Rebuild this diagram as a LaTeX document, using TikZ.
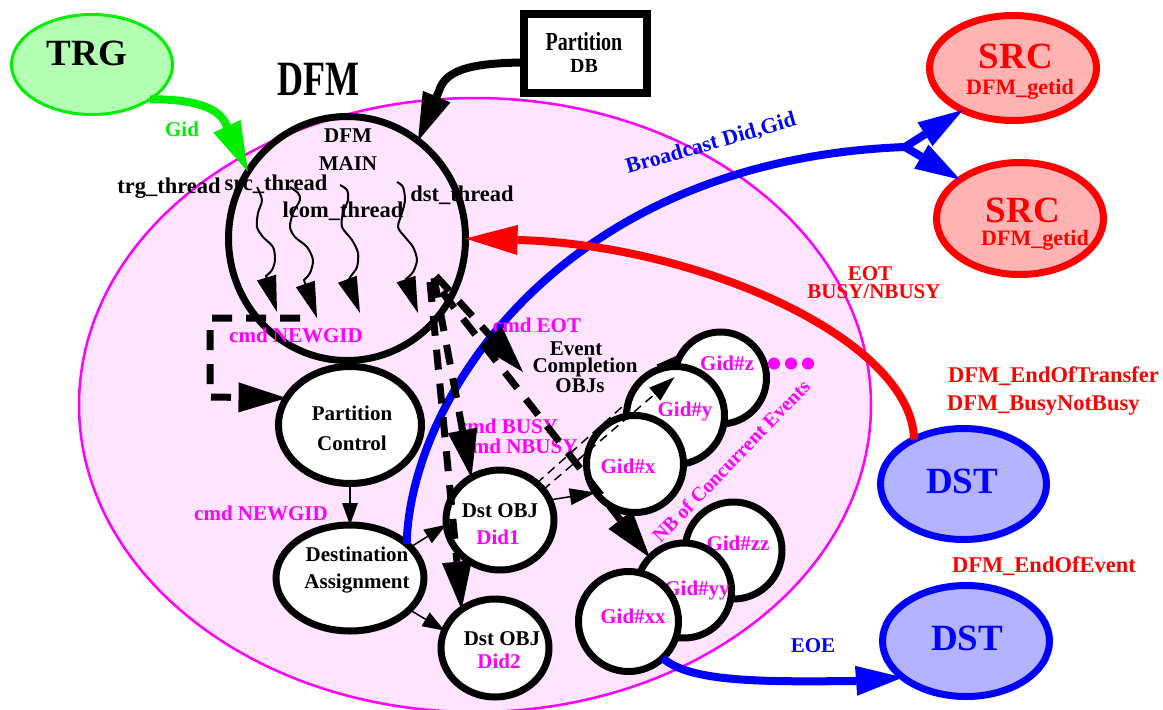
\documentclass[tikz,border=0pt]{standalone}
\usepackage{graphicx}
\usepackage{fontspec}
\setmainfont{Liberation Serif}
\usetikzlibrary{arrows.meta,shapes.geometric}

\definecolor{zonefill}{RGB}{255,228,255}
\definecolor{mag}{RGB}{255,0,255}
\definecolor{trgfill}{RGB}{179,255,179}
\definecolor{trgline}{RGB}{0,238,0}
\definecolor{srcfill}{RGB}{255,179,179}
\definecolor{dstfill}{RGB}{179,179,255}

\newcommand{\fsz}[2]{\fontsize{#1}{#2}\selectfont\bfseries}

\begin{document}
\begin{tikzpicture}[x=1pt,y=-1pt,
  every node/.style={inner sep=0pt, outer sep=0pt},
  lbl/.style={font=\fsz{21}{21}, anchor=base},
  lblw/.style={lbl, anchor=base west, font=\fsz{22.5}{22.5}},
  thlbl/.style={lbl, font=\fsz{22.5}{22.5}},
  bubble/.style={ellipse, draw=black, line width=7pt, fill=white},
  gid/.style={circle, draw=black, line width=7pt, fill=white},
  ext/.style={ellipse, line width=7pt},
  bigarrow/.style={line width=8pt, -{Triangle[length=50pt,width=30pt,line width=0pt]}},
  forkarrow/.style={line width=8pt, -{Triangle[length=45pt,width=28pt,line width=0pt]}},
  thinarrow/.style={line width=1.5pt, -{Triangle[length=22pt,width=16pt,line width=0pt]}},
  thindash/.style={line width=1.5pt, dash pattern=on 9pt off 6pt, -{Triangle[length=26pt,width=17pt,line width=0pt]}},
  cmdarrow/.style={line width=7pt, dash pattern=on 20pt off 14pt, -{Triangle[length=48pt,width=30pt,line width=0pt]}},
  wave/.style={line width=2pt, -{Triangle[length=36pt,width=20pt,line width=0pt]}},
]
\useasboundingbox (0,0) rectangle (1163,710);

% DFM region
\node[ellipse, draw=mag, line width=2.5pt, fill=zonefill, minimum width=792pt, minimum height=614pt] (zone) at (475,405) {};
\node[lbl, font=\fsz{36}{36}] (zonetitle) at (318,95) {\scalebox{1}[1.37]{DFM}};

% external actors
\node[ellipse, draw=trgline, line width=3pt, fill=trgfill, minimum width=161pt, minimum height=100pt] (trg) at (92,64.5) {};
\node[lbl, font=\fsz{37}{37}] (trgtext) at (87,65) {TRG};

\node[draw, line width=8pt, fill=white, minimum width=123pt, minimum height=79pt] (pdb) at (585.5,53.5) {};
\node[lbl, font=\fsz{20}{20}] (pdbtext1) at (584,50) {\scalebox{1}[1.3]{Partition}};
\node[lbl, font=\fsz{20}{20}] (pdbtext2) at (584,72) {DB};

\node[ext, draw=red, fill=srcfill, minimum width=167pt, minimum height=105pt] (src1) at (1013,68) {};
\node[lbl, text=red, font=\fsz{37}{37}] (src1a) at (1016,68) {SRC};
\node[lbl, text=red, font=\fsz{22}{22}] (src1b) at (1020,94) {DFM\_getid};
\node[ext, draw=red, fill=srcfill, minimum width=167pt, minimum height=112pt] (src2) at (1020,218.5) {};
\node[lbl, text=red, font=\fsz{37}{37}] (src2a) at (1023,222) {SRC};
\node[lbl, text=red, font=\fsz{22}{22}] (src2b) at (1035,245) {DFM\_getid};

\node[ext, draw=blue, fill=dstfill, minimum width=166pt, minimum height=111pt] (dst1) at (963.5,484) {};
\node[lbl, text=blue, font=\fsz{37}{37}] (dst1a) at (962,493) {DST};
\node[ext, draw=blue, fill=dstfill, minimum width=167pt, minimum height=111pt] (dst2) at (966,641) {};
\node[lbl, text=blue, font=\fsz{37}{37}] (dst2a) at (967,650) {DST};

\node[lblw, text=red] (eotfn) at (948,382) {DFM\_EndOfTransfer};
\node[lblw, text=red] (busyfn) at (947,410) {DFM\_BusyNotBusy};
\node[lblw, text=red] (eoefn) at (952,572) {DFM\_EndOfEvent};

% main thread circle
\node[thlbl] (trgth) at (169,193) {trg\_thread};
\node[thlbl] (srcth) at (276,190) {src\_thread};
\node[thlbl] (lcomth) at (343,217) {lcom\_thread};
\node[thlbl] (dstth) at (462,201) {dst\_thread};
\node[ellipse, draw, line width=7pt, minimum width=237pt, minimum height=244pt] (dfm) at (347,238.5) {};
\node[lbl] (dfma) at (348,142) {DFM};
\node[lbl] (dfmb) at (348,170) {MAIN};

% control objects (drawn early so the broadcast line starts on the border)
\node[bubble, minimum width=143pt, minimum height=117pt] (pc) at (350,425) {};
\node[lbl] (pca) at (352,420) {Partition};
\node[lbl] (pcb) at (352,450) {Control};

\node[bubble, minimum width=148pt, minimum height=106pt] (dasg) at (350,578) {};
\node[lbl] (dasga) at (357,561) {Destination};
\node[lbl] (dasgb) at (357,588) {Assignment};

% broadcast to the sources
\coordinate (fork) at (905,147);
\draw[blue, line width=8pt] (dasg.31.5) .. controls (410,400) and (560,160) .. (fork);
\draw[forkarrow, blue] (fork) -- (src1.220);
\draw[forkarrow, blue] (fork) -- (src2.147);

% end of transfer / busy back to the main thread
\draw[bigarrow, red, -{Triangle[length=52pt,width=30pt,line width=0pt]}] (dst1.138) .. controls (912,340) and (700,245) .. (518,240) -- (dfm.east);

% trigger and partition database inputs
\draw[bigarrow, trgline] (trg.-31.5) .. controls (195,99) and (220,108) .. (226.5,125.5) -- (dfm.146);
\draw[bigarrow, black, -{Triangle[length=48pt,width=30pt,line width=0pt]}] ([yshift=-9pt]pdb.west) .. controls (465,63) and (445,72) .. (439,91) -- (dfm.54);

\node[bubble, minimum width=108pt, minimum height=100pt] (did1) at (500,520) {};
\node[lbl] (did1a) at (500,517) {Dst OBJ};
\node[lbl, text=mag] (did1b) at (498,544) {Did1};
\node[bubble, minimum width=108pt, minimum height=98pt] (did2) at (495,648) {};
\node[lbl] (did2a) at (502,645) {Dst OBJ};
\node[lbl, text=mag] (did2b) at (499,668) {Did2};

\draw[thinarrow] (pc.south) -- (dasg.north);
\draw[thinarrow] (dasg.27) -- (did1.185);
\draw[thinarrow] (dasg.-28) -- (did2.161);

% event completion objects
\node[gid, minimum size=92pt] (gidz) at (720.5,378) {};
\node[lbl, text=mag] (gidzt) at (727,370) {Gid\#z};
\draw[thindash] (did1.45) -- (gidz.148);
\node[gid, minimum size=98pt] (gidy) at (675.5,415.5) {};
\node[lbl, text=mag] (gidyt) at (685,416) {Gid\#y};
\node[gid, minimum size=97pt] (gidx) at (635,464) {};
\node[lbl, text=mag] (gidxt) at (628,473) {Gid\#x};
\draw[thindash] (did1.35) -- (gidz.179);
\draw[line width=1.5pt, -{Triangle[length=26pt,width=17pt,line width=0pt]}] (did1.22) -- (gidx.216);

\node[gid, minimum size=97pt] (gidzz) at (733.5,550.5) {};
\node[lbl, text=mag] (gidzzt) at (738,550) {Gid\#zz};
\node[gid, minimum size=95pt] (gidyy) at (684,590.5) {};
\node[lbl, text=mag] (gidyyt) at (697,595) {Gid\#yy};
\node[gid, minimum size=100pt] (gidxx) at (628.5,621.5) {};
\node[lbl, text=mag] (gidxxt) at (633,623) {Gid\#xx};

\node[circle, fill=mag, minimum size=12pt] (dot1) at (774,363.5) {};
\node[circle, fill=mag, minimum size=12pt] (dot2) at (791,363.5) {};
\node[circle, fill=mag, minimum size=12pt] (dot3) at (808,363.5) {};

% end of event
\draw[bigarrow, blue, -{Triangle[length=47pt,width=30pt,line width=0pt]}] (gidxx.-47) .. controls (690,682) and (760,682) .. (853,681) -- (dst2.210);

% labels
\node[lbl, text=red] (eotl) at (870,280) {EOT};
\node[lbl, text=red] (busyl) at (874,298) {BUSY/NBUSY};
\node[lbl, text=blue] (eoel) at (813,652) {EOE};
\node[lbl, text=trgline] (gidl) at (182,136) {Gid};
\node[font=\fsz{22}{22}, text=blue, rotate=16] (bcast) at (711,144) {Broadcast Did,Gid};
\node[font=\fsz{20}{20}, text=mag, rotate=46] (nbl) at (731,461) {NB of Concurrent Events};
\node[lbl] (eca) at (576,355) {Event};
\node[lbl] (ecb) at (585,372) {Completion};
\node[lbl] (ecc) at (580,392) {OBJs};
\node[lbl, text=mag] (cmdeot) at (537,332) {cmd EOT};
\node[lbl, text=mag] (cmdbusy) at (508,433) {cmd BUSY};
\node[lbl, text=mag] (cmdnbusy) at (520,453) {cmd NBUSY};
\node[lbl, text=mag] (cmdng1) at (296,342) {cmd NEWGID};
\node[lbl, text=mag] (cmdng2) at (261,520) {cmd NEWGID};

% threads
\coordinate (th1) at (277,312);
\coordinate (th2) at (317,318);
\coordinate (th3) at (360,313);
\coordinate (th4) at (418,313);
\draw[wave] plot[smooth] coordinates {(257,187) (262,200) (258,213) (257,227) (263,237) (273,247) (275,260) (272,270) (266,276)} -- (th1);
\draw[wave] plot[smooth] coordinates {(290,187) (298,193) (300,200) (293,213) (290,227) (295,237) (307,247) (313,260) (310,273) (304,280)} -- (th2);
\draw[wave] plot[smooth] coordinates {(340,185) (347,190) (348,200) (343,213) (342,227) (352,240) (358,253) (357,267) (351,276) (348,281)} -- (th3);
\draw[wave] plot[smooth] coordinates {(397,182) (403,187) (405,200) (402,213) (398,227) (405,237) (413,247) (417,260) (413,272) (406,279)} -- (th4);

% commands issued by the main thread
\coordinate (ngstart) at (300,318);
\coordinate (busy1) at (434,278);
\coordinate (busy2) at (430,282);
\coordinate (eot0) at (436,276);
\coordinate (eottip) at (523,372);
\coordinate (ev0) at (442,292);
\draw[cmdarrow] (ngstart) -- (210,318) -- (210,397) -- (pc.157);
\draw[cmdarrow] (busy1) -- (did1.124);
\draw[cmdarrow] (busy2) -- (did2.131);
\draw[cmdarrow] (eot0) -- (eottip);
\draw[cmdarrow] (ev0) -- (gidyy.136);
\end{tikzpicture}
\end{document}
